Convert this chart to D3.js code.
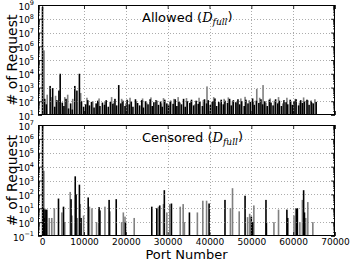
<!DOCTYPE html>
<html>
<head>
<meta charset="utf-8">
<script src="https://cdn.jsdelivr.net/npm/d3@7"></script>
<style>
  body { margin: 0; background: #fff; }
  svg { display: block; font-family: "DejaVu Sans", sans-serif; }
</style>
</head>
<body>
<div id="chart"></div>
<script>
// Port axis ticks
var xTicks = [0, 10000, 20000, 30000, 40000, 50000, 60000, 70000];

// Allowed traffic (top panel), black series
var allowedBlackPorts = [
  80, 600, 1000, 1900, 2500, 3000, 3500, 4000, 4300, 4800,
  5200, 5700, 6300, 6800, 7200, 7800, 8300, 8900, 9400, 9900,
  10400, 10900, 11300, 11800, 12400, 12900, 13300, 13800, 14400, 14900,
  15300, 15800, 16300, 16900, 17400, 17800, 18300, 18800, 19300, 19800,
  20300, 20800, 21300, 21700, 22300, 22800, 23300, 23800, 24200, 24700,
  25300, 25800, 26300, 26700, 27200, 27800, 28300, 28700, 29300, 29800,
  30200, 30700, 31300, 31800, 32200, 32700, 33300, 33800, 34200, 34700,
  35300, 35700, 36200, 36800, 37300, 37700, 38300, 38800, 39300, 39700,
  40200, 40800, 41300, 41700, 42200, 42800, 43300, 43700, 44300, 44800,
  45200, 45700, 46300, 46800, 47200, 47700, 48300, 48700, 49200, 49800,
  50300, 50700, 51200, 51800, 52300, 52700, 53200, 53800, 54300, 54700,
  55200, 55800, 56300, 56700, 57200, 57800, 58300, 58700, 59300, 59800,
  60200, 60700, 61300, 61800, 62200, 62700, 63300, 63800, 64300, 64800, 65500
];
var allowedBlackCounts = [
  700000000, 150, 60, 1300, 900, 40, 120, 600, 10000, 80,
  45, 150, 30, 70, 25, 1300, 600, 10000, 100, 40,
  60, 120, 50, 90, 35, 70, 110, 45, 80, 55,
  120, 40, 90, 65, 150, 50, 1500, 70, 110, 45,
  130, 60, 95, 40, 140, 75, 50, 120, 35, 100,
  60, 140, 45, 85, 120, 55, 95, 40, 130, 70,
  50, 110, 65, 140, 45, 90, 60, 150, 40, 100,
  75, 130, 50, 110, 65, 90, 45, 140, 70, 120,
  55, 100, 160, 45, 90, 130, 60, 110, 75, 150,
  50, 120, 85, 140, 60, 100, 45, 130, 70, 90,
  160, 55, 110, 75, 140, 60, 100, 45, 130, 80,
  50, 140, 70, 110, 45, 120, 85, 60, 130, 55,
  100, 140, 50, 120, 75, 95, 130, 55, 110, 70, 90
];

// Allowed traffic (top panel), gray series
var allowedGrayPorts = [
  443, 1200, 2200, 3200, 5400, 6100, 7300, 9200, 10700, 12100,
  13600, 15000, 16600, 17100, 19000, 20000, 21000, 22500, 24000, 25000,
  26000, 27500, 28500, 29000, 30500, 31500, 32500, 33000, 34500, 35500,
  36500, 37500, 38500, 39400, 40500, 41000, 42500, 43500, 44500, 45500,
  46500, 47500, 48500, 49500, 50500, 51300, 52000, 52800, 53500, 54500,
  55500, 56500, 57500, 58500, 59500, 60500, 61500, 62500, 63500, 64500, 65200
];
var allowedGrayCounts = [
  500000, 300, 200, 250, 200, 300, 150, 400, 180, 100,
  160, 90, 200, 80, 150, 70, 180, 100, 160, 80,
  190, 110, 70, 170, 90, 150, 200, 80, 170, 100,
  60, 180, 120, 1200, 90, 200, 70, 150, 190, 100,
  80, 160, 210, 120, 90, 800, 180, 1500, 80, 160,
  110, 200, 70, 180, 100, 150, 80, 190, 120, 80, 140
];

// Censored traffic (bottom panel), black series
var censoredBlackPorts = [
  100, 300, 500, 700, 1100, 3900, 5100, 6900, 7900, 8100,
  8900, 9300, 11000, 13600, 13800, 16000, 17700, 19900, 26200, 27400,
  28100, 29200, 30900, 35200, 39900, 43700, 48500, 50000, 50300, 53500,
  53600, 58500, 58700, 60800, 61000, 62500, 62700
];
var censoredBlackCounts = [
  10000000, 10, 2, 8, 8, 50, 13, 45, 2000, 100,
  500, 2, 60, 12, 7, 40, 45, 1, 13, 10,
  16, 200, 22, 5, 22, 40, 80, 2.5, 1, 40,
  1, 8, 2, 10, 10, 200, 5
];

// Censored traffic (bottom panel), gray series
var censoredGrayPorts = [
  400, 600, 1700, 2300, 2900, 4700, 5400, 6700, 7100, 8400,
  9100, 9900, 11300, 11900, 13000, 15000, 16200, 19000, 19400, 19800,
  22000, 27800, 29000, 29800, 30500, 33000, 33700, 34000, 37100, 38400,
  39300, 45000, 45500, 47100, 49100, 49600, 50600, 55400, 56500, 60200,
  60600, 61600, 62200, 63000, 63500, 64700
];
var censoredGrayCounts = [
  5000, 10, 2, 2, 10, 5, 1, 150, 3, 2,
  20, 3, 13, 10, 1, 13, 6, 1, 5, 2.5,
  2, 13, 20, 5, 20, 13, 20, 1, 5, 35,
  35, 10, 280, 6, 2.3, 4, 16, 1, 8, 3,
  10, 1, 40, 2, 28, 1
];

var topExponents = [1, 2, 3, 4, 5, 6, 7, 8, 9];
var bottomExponents = [-1, 0, 1, 2, 3, 4, 5, 6, 7];

var W = 358, H = 261;
var plotLeft = 38, plotRight = 335;

var svg = d3.select("#chart").append("svg")
  .attr("width", W)
  .attr("height", H);

var x = d3.scaleLinear().domain([-1000, 70000]).range([plotLeft, plotRight]);

function zip(ports, counts) {
  return ports.map(function(p, i) { return {port: p, count: counts[i]}; });
}

function drawPanel(opts) {
  var y = d3.scaleLog()
    .domain([Math.pow(10, opts.exps[0]), Math.pow(10, opts.exps[opts.exps.length - 1])])
    .range([opts.bottom, opts.top])
    .clamp(true);

  var g = svg.append("g");

  // clip for bars
  var clipId = "clip" + opts.id;
  svg.append("clipPath").attr("id", clipId)
    .append("rect")
    .attr("x", plotLeft).attr("y", opts.top)
    .attr("width", plotRight - plotLeft).attr("height", opts.bottom - opts.top);

  var majors = opts.exps.map(function(e) { return Math.pow(10, e); });
  var minors = [];
  for (var i = 0; i < opts.exps.length - 1; i++) {
    for (var k = 2; k <= 9; k++) minors.push(k * Math.pow(10, opts.exps[i]));
  }

  // bars
  var bars = g.append("g").attr("clip-path", "url(#" + clipId + ")");
  opts.series.forEach(function(s) {
    bars.selectAll(null)
      .data(s.data)
      .enter()
      .append("rect")
      .attr("x", function(d) { return x(d.port) - 0.8; })
      .attr("width", 1.6)
      .attr("y", function(d) { return y(d.count); })
      .attr("height", function(d) { return opts.bottom - y(d.count); })
      .attr("fill", s.color);
  });

  // grid
  var grid = g.append("g")
    .attr("stroke", "#888")
    .attr("stroke-width", 0.7)
    .attr("stroke-dasharray", "1,2");
  grid.selectAll(null).data(majors.slice(1, -1)).enter().append("line")
    .attr("x1", plotLeft).attr("x2", plotRight)
    .attr("y1", function(d) { return Math.round(y(d)) + 0.5; })
    .attr("y2", function(d) { return Math.round(y(d)) + 0.5; });
  grid.selectAll(null).data(xTicks.slice(0, -1)).enter().append("line")
    .attr("y1", opts.top).attr("y2", opts.bottom)
    .attr("x1", function(d) { return Math.round(x(d)) + 0.5; })
    .attr("x2", function(d) { return Math.round(x(d)) + 0.5; });

  // left axis with labels
  var leftAxis = g.append("g")
    .attr("transform", "translate(" + plotLeft + ",0)")
    .call(d3.axisLeft(y).tickValues(majors).tickSizeInner(-4).tickSizeOuter(0).tickPadding(4));
  leftAxis.selectAll("text").each(function(d) {
    var t = d3.select(this);
    var e = Math.round(Math.log10(d));
    t.text(null).attr("font-size", 9).attr("fill", "#000").attr("dy", "0.45em")
      .attr("font-family", "DejaVu Sans, sans-serif");
    t.append("tspan").text("10");
    t.append("tspan").attr("font-size", 6.5).attr("dy", "-0.7em")
      .text(e < 0 ? "\u2212" + (-e) : String(e));
  });
  g.append("g")
    .attr("transform", "translate(" + plotLeft + ",0)")
    .call(d3.axisLeft(y).tickValues(minors).tickSizeInner(-2).tickSizeOuter(0).tickFormat(""));
  g.append("g")
    .attr("transform", "translate(" + plotRight + ",0)")
    .call(d3.axisRight(y).tickValues(majors).tickSizeInner(-4).tickSizeOuter(0).tickFormat(""));
  g.append("g")
    .attr("transform", "translate(" + plotRight + ",0)")
    .call(d3.axisRight(y).tickValues(minors).tickSizeInner(-2).tickSizeOuter(0).tickFormat(""));

  // x axes
  var bottomAxis = g.append("g")
    .attr("transform", "translate(0," + opts.bottom + ")")
    .call(d3.axisBottom(x).tickValues(xTicks).tickSizeInner(-4).tickSizeOuter(0).tickPadding(3)
      .tickFormat(opts.xLabels ? d3.format("d") : ""));
  bottomAxis.selectAll("text").attr("font-size", 9).attr("fill", "#000")
    .attr("font-family", "DejaVu Sans, sans-serif");
  g.append("g")
    .attr("transform", "translate(0," + opts.top + ")")
    .call(d3.axisTop(x).tickValues(xTicks).tickSizeInner(-4).tickSizeOuter(0).tickFormat(""));

  g.selectAll(".domain").remove();
  g.selectAll(".tick line").attr("stroke", "#000").attr("stroke-width", 0.8);

  // frame
  g.append("rect")
    .attr("x", plotLeft + 0.5).attr("y", opts.top + 0.5)
    .attr("width", plotRight - plotLeft - 1).attr("height", opts.bottom - opts.top - 1)
    .attr("fill", "none").attr("stroke", "#000").attr("stroke-width", 1);

  // title
  var title = g.append("text")
    .attr("x", 142).attr("y", opts.top + 17)
    .attr("font-size", 13).attr("fill", "#000");
  title.append("tspan").text(opts.title + " (");
  title.append("tspan").attr("font-family", "DejaVu Serif, serif").attr("font-style", "italic").text("D");
  title.append("tspan").attr("font-family", "DejaVu Serif, serif").attr("font-style", "italic")
    .attr("font-size", 9).attr("dy", "0.3em").text("full");
  title.append("tspan").attr("dy", "-0.25em").text(")");

  // y label
  svg.append("text")
    .attr("transform", "translate(17," + ((opts.top + opts.bottom) / 2) + ") rotate(-90)")
    .attr("text-anchor", "middle")
    .attr("font-size", 14)
    .text("# of Request");
}

drawPanel({
  id: "top", top: 5, bottom: 115, exps: topExponents, title: "Allowed", xLabels: false,
  series: [
    {color: "#808080", data: zip(allowedGrayPorts, allowedGrayCounts)},
    {color: "#000000", data: zip(allowedBlackPorts, allowedBlackCounts)}
  ]
});

drawPanel({
  id: "bottom", top: 125, bottom: 236, exps: bottomExponents, title: "Censored", xLabels: true,
  series: [
    {color: "#808080", data: zip(censoredGrayPorts, censoredGrayCounts)},
    {color: "#000000", data: zip(censoredBlackPorts, censoredBlackCounts)}
  ]
});

svg.append("text")
  .attr("x", (plotLeft + plotRight) / 2)
  .attr("y", 259)
  .attr("text-anchor", "middle")
  .attr("font-size", 13)
  .text("Port Number");
</script>
</body>
</html>
